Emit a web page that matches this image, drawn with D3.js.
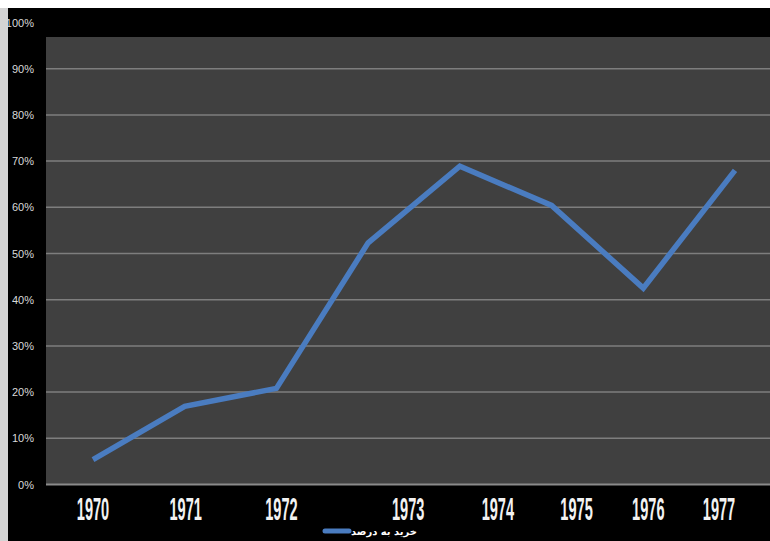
<!DOCTYPE html>
<html>
<head>
<meta charset="utf-8">
<script src="https://cdn.jsdelivr.net/npm/d3@7"></script>
<style>
  body { margin: 0; background: #fff; }
  svg { display: block; }
</style>
</head>
<body>
<svg id="drawing_region"></svg>
<script>
// data
const years = ['1970', '1971', '1972', '1973', '1974', '1975', '1976', '1977'];
const values = [5.4, 16.9, 20.8, 52.3, 68.9, 60.4, 42.5, 68.0];
const yTicks = [0, 10, 20, 30, 40, 50, 60, 70, 80, 90, 100];
const seriesName = 'خريد به درصد';
// the year labels sit off their points in the original, nudge them the same way
const labelShift = [0, 1, 5, 40, 38, 25, 5, -16];

const W = 770, H = 541;
const svg = d3.select('#drawing_region').attr('width', W).attr('height', H);

// frame: white strip on top, grey strip on left, black panel
svg.append('rect').attr('x', 0).attr('y', 0).attr('width', W).attr('height', H).attr('fill', '#ffffff');
svg.append('rect').attr('x', 0).attr('y', 8).attr('width', 8).attr('height', H - 8).attr('fill', '#d4d4d4');
svg.append('rect').attr('x', 8).attr('y', 8).attr('width', W - 8).attr('height', H - 8).attr('fill', '#000000');

const xscale = d3.scalePoint().domain(years).range([93, 735]);
const yscale = d3.scaleLinear().domain([0, 100]).range([484.5, 22.5]);

// plot area
svg.append('rect')
  .attr('x', 46).attr('y', 37)
  .attr('width', W - 46).attr('height', yscale(0) - 37)
  .attr('fill', '#404040');

// gridlines
svg.append('g').selectAll('line')
  .data(yTicks.filter(d => d > 0 && d < 100))
  .join('line')
  .attr('x1', 46).attr('x2', W)
  .attr('y1', d => yscale(d)).attr('y2', d => yscale(d))
  .attr('stroke', '#7e7e7e').attr('stroke-width', 1.5);

// y axis labels
const yaxis = d3.axisLeft(yscale).tickValues(yTicks).tickFormat(d => d + '%').tickSize(0);
const yg = svg.append('g').attr('transform', 'translate(37,0)').call(yaxis);
yg.select('.domain').remove();
yg.selectAll('text')
  .attr('fill', '#d9d9d9')
  .attr('font-family', 'Liberation Sans, Arial, sans-serif')
  .attr('font-size', 11);

// bottom axis line
svg.append('line')
  .attr('x1', 46).attr('x2', W)
  .attr('y1', yscale(0)).attr('y2', yscale(0))
  .attr('stroke', '#8a8a8a').attr('stroke-width', 2);

// x labels: tall condensed bold
svg.append('g').selectAll('text')
  .data(years)
  .join('text')
  .attr('transform', (d, i) => `translate(${xscale(d) + labelShift[i]}, 520) scale(0.47, 1)`)
  .attr('text-anchor', 'middle')
  .attr('fill', '#f2f2f2')
  .attr('font-family', 'Liberation Sans, Arial, sans-serif')
  .attr('font-weight', 'bold')
  .attr('font-size', 31)
  .text(d => d);

// series line
const line = d3.line().x((d, i) => xscale(years[i])).y(d => yscale(d));
svg.append('path')
  .attr('d', line(values))
  .attr('fill', 'none')
  .attr('stroke', '#4a7cc0')
  .attr('stroke-width', 5.5)
  .attr('stroke-linejoin', 'miter')
  .attr('stroke-linecap', 'butt');

// legend
svg.append('line')
  .attr('x1', 325).attr('x2', 349)
  .attr('y1', 531).attr('y2', 531)
  .attr('stroke', '#4a7cc0').attr('stroke-width', 5).attr('stroke-linecap', 'round');
svg.append('text')
  .attr('x', 384).attr('y', 535)
  .attr('text-anchor', 'middle')
  .attr('fill', '#ffffff')
  .attr('font-family', 'DejaVu Sans, sans-serif')
  .attr('font-weight', 'bold')
  .attr('font-size', 10)
  .text(seriesName);
</script>
</body>
</html>
